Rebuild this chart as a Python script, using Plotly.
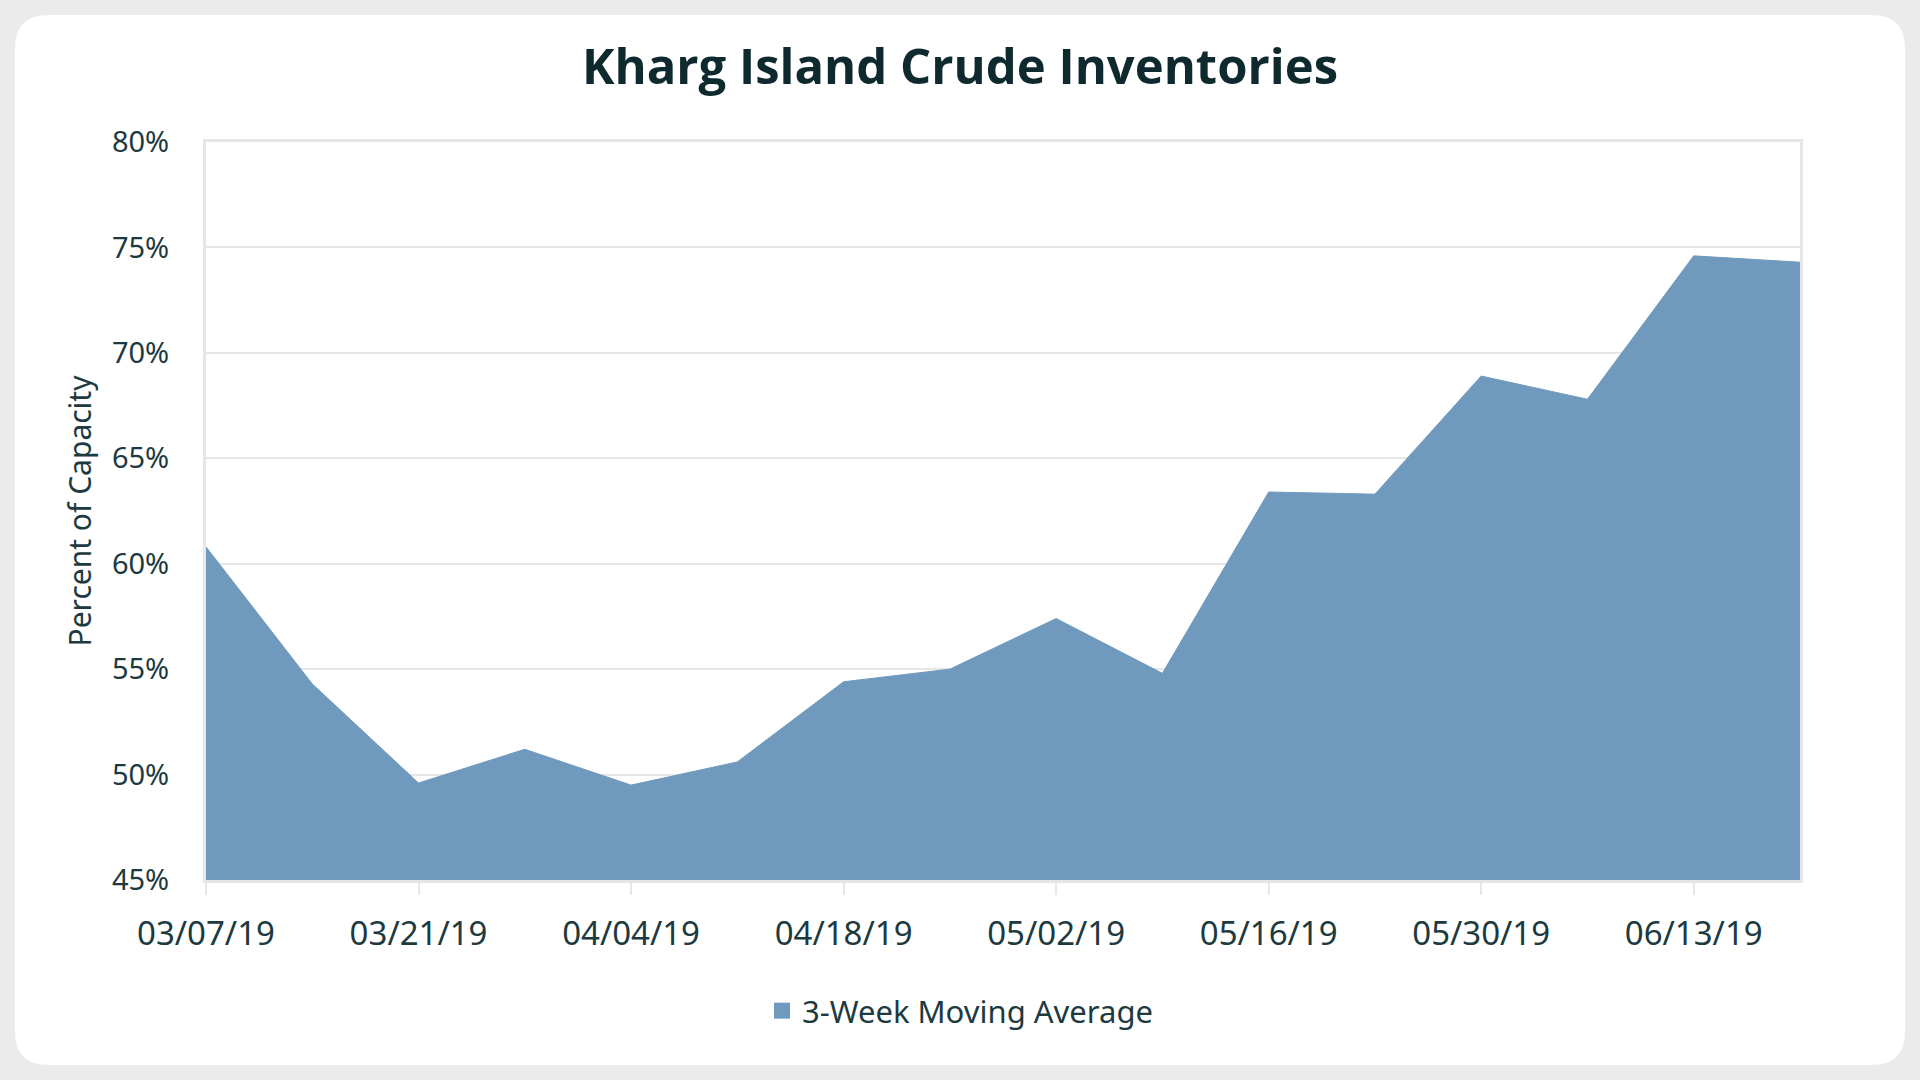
import plotly.graph_objects as go


dates = [
    "2019-03-07", "2019-03-14", "2019-03-21", "2019-03-28",
    "2019-04-04", "2019-04-11", "2019-04-18", "2019-04-25",
    "2019-05-02", "2019-05-09", "2019-05-16", "2019-05-23",
    "2019-05-30", "2019-06-06", "2019-06-13", "2019-06-20",
]
moving_avg = [
    60.8, 54.3, 49.6, 51.2,
    49.5, 50.6, 54.4, 55.0,
    57.4, 54.8, 63.4, 63.3,
    68.9, 67.8, 74.6, 74.3,
]

series_name = "3-Week Moving Average"
chart_title = "Kharg Island Crude Inventories"
y_title = "Percent of Capacity"

W, H = 1920, 1080
L, R, T, B = 206, 120, 142, 200
pw, ph = W - L - R, H - T - B

text_col = "#1c3a40"
fill_col = "#6f9abe"
grid_col = "#e6e6e6"


def px_x(px):
    return (px - L) / pw


def px_y(py):
    return (H - B - py) / ph


# white rounded card on grey page
x0, x1, y0, y1, rad = 15, 1905, 15, 1065, 34
card = (
    f"M {px_x(x0 + rad)} {px_y(y0)} L {px_x(x1 - rad)} {px_y(y0)} "
    f"Q {px_x(x1)} {px_y(y0)} {px_x(x1)} {px_y(y0 + rad)} "
    f"L {px_x(x1)} {px_y(y1 - rad)} "
    f"Q {px_x(x1)} {px_y(y1)} {px_x(x1 - rad)} {px_y(y1)} "
    f"L {px_x(x0 + rad)} {px_y(y1)} "
    f"Q {px_x(x0)} {px_y(y1)} {px_x(x0)} {px_y(y1 - rad)} "
    f"L {px_x(x0)} {px_y(y0 + rad)} "
    f"Q {px_x(x0)} {px_y(y0)} {px_x(x0 + rad)} {px_y(y0)} Z"
)

fig = go.Figure()
fig.add_trace(go.Scatter(
    x=dates,
    y=moving_avg,
    name=series_name,
    mode="lines",
    fill="tozeroy",
    fillcolor=fill_col,
    line=dict(color=fill_col, width=1),
    showlegend=False,
))
# legend entry only (square swatch like the original)
fig.add_trace(go.Scatter(
    x=[None],
    y=[None],
    name=series_name,
    mode="markers",
    marker=dict(symbol="square", size=24, color=fill_col),
))

fig.update_layout(
    width=W,
    height=H,
    margin=dict(l=L, r=R, t=T, b=B),
    paper_bgcolor="#ebebeb",
    plot_bgcolor="white",
    font=dict(family="Noto Sans", size=29, color=text_col),
    title=dict(
        text=f"<b>{chart_title}</b>",
        x=0.5,
        xanchor="center",
        y=1 - 67 / H,
        yanchor="middle",
        font=dict(family="Open Sans", size=49, color="#0f2a2e"),
    ),
    showlegend=True,
    legend=dict(
        orientation="h",
        x=px_x(W / 2),
        xanchor="center",
        y=px_y(1011),
        yanchor="middle",
        bgcolor="rgba(0,0,0,0)",
        font=dict(size=31, color=text_col),
    ),
    shapes=[dict(
        type="path",
        path=card,
        xref="paper",
        yref="paper",
        fillcolor="white",
        line=dict(width=0),
        layer="below",
    )],
)

fig.update_xaxes(
    type="date",
    range=["2019-03-07", "2019-06-20"],
    tick0="2019-03-07",
    dtick=14 * 24 * 3600 * 1000,
    tickformat="%m/%d/%y",
    ticks="outside",
    ticklen=12,
    tickwidth=2,
    tickcolor=grid_col,
    ticklabelstandoff=10,
    showgrid=False,
    showline=True,
    linecolor=grid_col,
    linewidth=3,
    mirror=True,
    tickfont=dict(size=33, color=text_col),
)

fig.update_yaxes(
    range=[45, 80],
    dtick=5,
    ticksuffix="%",
    showgrid=True,
    gridcolor=grid_col,
    gridwidth=2,
    showline=True,
    linecolor=grid_col,
    linewidth=3,
    mirror=True,
    ticks="",
    ticklabelstandoff=28,
    zeroline=False,
    tickfont=dict(size=29, color=text_col),
    title=dict(text=y_title, standoff=12, font=dict(size=30, color=text_col)),
)

# drop the default page margin so the figure sits at the window corner
fig.write_html(
    "out.html",
    config={"displayModeBar": False},
    post_script="document.body.style.margin='0';",
)
